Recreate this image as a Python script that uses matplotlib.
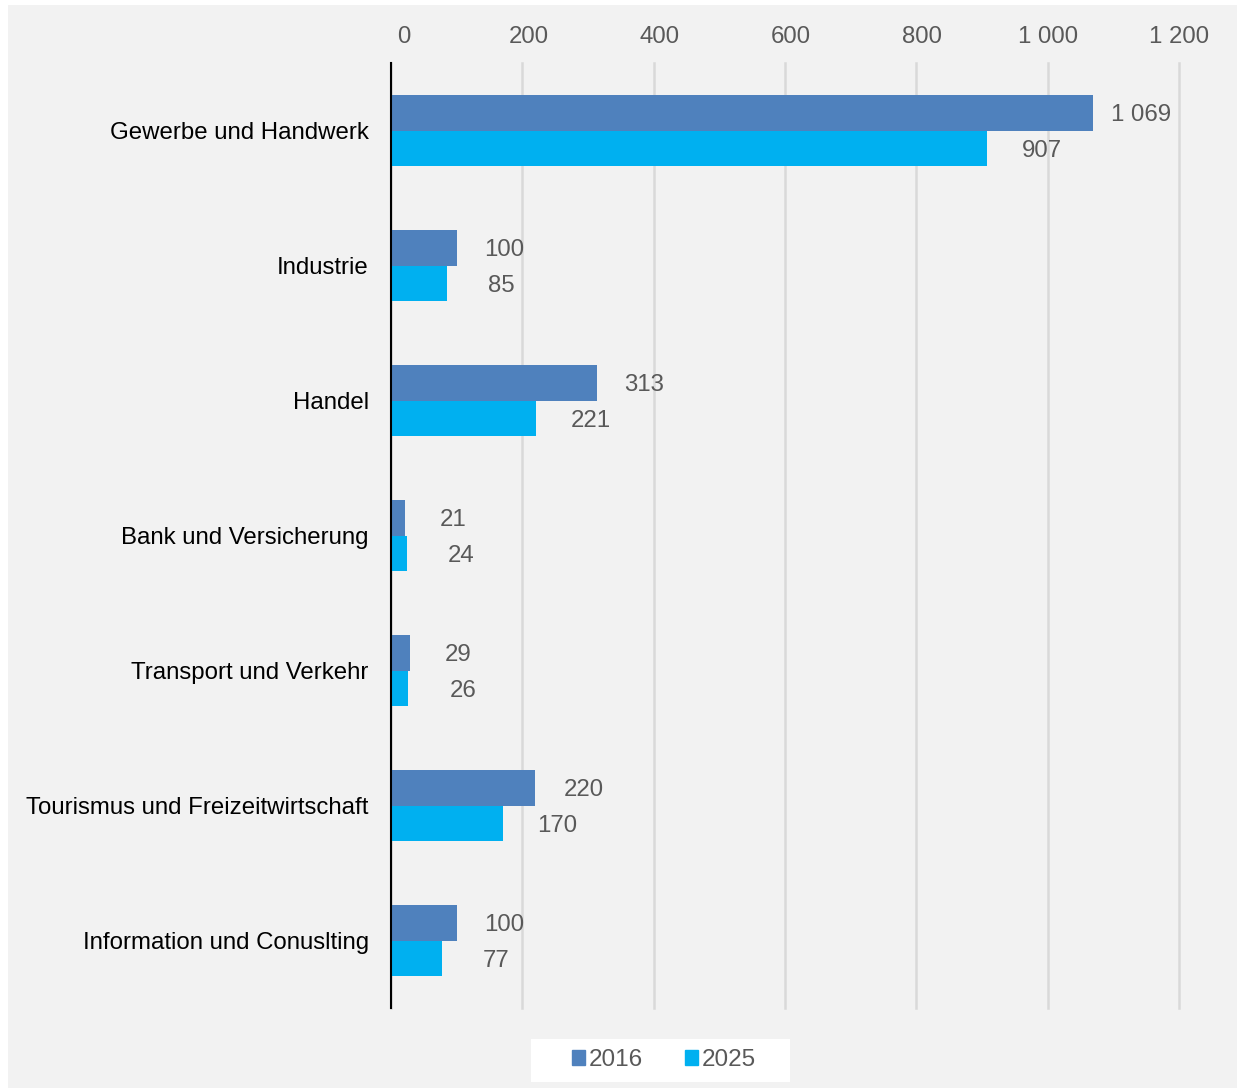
import matplotlib.pyplot as plt
from matplotlib.patches import Rectangle, Patch
from matplotlib.transforms import ScaledTranslation
import numpy as np

plt.rcParams['font.family'] = ['Liberation Sans', 'DejaVu Sans']

# Branchen und Werte
branchen = ['Gewerbe und Handwerk', 'Industrie', 'Handel', 'Bank und Versicherung',
            'Transport und Verkehr', 'Tourismus und Freizeitwirtschaft',
            'Information und Conuslting']
werte_2016 = [1069, 100, 313, 21, 29, 220, 100]
werte_2025 = [907, 85, 221, 24, 26, 170, 77]
ticks = [0, 200, 400, 600, 800, 1000, 1200]

c2016 = '#4f81bd'
c2025 = '#00b0f0'
grau = '#595959'
fs = 17.3


def fmt(v):
    return f'{v:,}'.replace(',', ' ')


fig = plt.figure(figsize=(12.37, 10.9), dpi=100)
fig.patch.set_facecolor('white')
# grauer Hintergrund
fig.patches.append(Rectangle((8 / 1237, 2 / 1090), 1229 / 1237, 1083 / 1090,
                             transform=fig.transFigure, facecolor='#f2f2f2',
                             edgecolor='none', zorder=-5))
# weisser Kasten hinter der Legende
fig.patches.append(Rectangle((531 / 1237, 8 / 1090), 259 / 1237, 43 / 1090,
                             transform=fig.transFigure, facecolor='white',
                             edgecolor='none', zorder=-4))

ax = fig.add_axes([391 / 1237, 82 / 1090, 788 / 1237, 945 / 1090])
ax.set_facecolor('none')

y = np.arange(len(branchen))
h = 0.26
b1 = ax.barh(y - h / 2, werte_2016, height=h, color=c2016, zorder=3)
b2 = ax.barh(y + h / 2, werte_2025, height=h, color=c2025, zorder=3)

for bars, vals, off in [(b1, werte_2016, 34.5), (b2, werte_2025, 39.5)]:
    for bar, v in zip(bars, vals):
        ax.annotate(fmt(v), (v, bar.get_y() + bar.get_height() / 2),
                    xytext=(off, 0), textcoords='offset points',
                    ha='center', va='center_baseline', fontsize=fs, color=grau)

ax.set_xlim(0, 1200)
ax.set_ylim(len(branchen) - 0.5, -0.5)
ax.set_xticks(ticks)
ax.set_xticklabels([fmt(t) for t in ticks])
ax.xaxis.tick_top()
ax.tick_params(axis='x', length=0, pad=10.7, labelsize=fs, labelcolor=grau)
# Beschriftungen oben leicht nach rechts versetzt
for lab, dx in zip(ax.get_xticklabels(), [13, 6, 6, 6, 6, 0, 0]):
    lab.set_transform(lab.get_transform() + ScaledTranslation(dx / 100, 0, fig.dpi_scale_trans))
ax.set_yticks(y)
ax.set_yticklabels(branchen)
ax.tick_params(axis='y', length=0, pad=16, labelsize=fs, labelcolor='black')

ax.grid(axis='x', color='#d9d9d9', linewidth=1.8, zorder=0)
for gl in ax.get_xgridlines():
    gl.set_clip_on(False)
for s in ['top', 'right', 'bottom']:
    ax.spines[s].set_visible(False)
ax.spines['left'].set_color('black')
ax.spines['left'].set_linewidth(1.5)
ax.spines['left'].set_zorder(4)

handles = [Patch(color=c2016, label='2016'), Patch(color=c2025, label='2025')]
leg = fig.legend(handles=handles, loc='center', bbox_to_anchor=(664 / 1237, 30 / 1090),
                 ncol=2, frameon=False, fontsize=17.5,
                 handlelength=0.54, handleheight=0.54, handletextpad=0.17,
                 columnspacing=1.7, borderpad=0, borderaxespad=0)
for t in leg.get_texts():
    t.set_color(grau)

fig.savefig('out.png', dpi=100, facecolor=fig.get_facecolor())
